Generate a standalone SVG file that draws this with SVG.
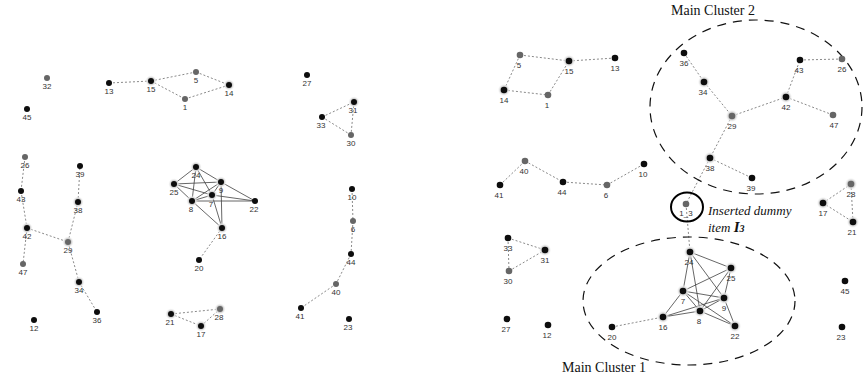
<svg xmlns="http://www.w3.org/2000/svg" width="863" height="379" viewBox="0 0 863 379">
<style>
.d{fill:#0d0d0d}
.g{fill:#666}
.h{fill:url(#halo)}
text.l{font-family:"Liberation Sans",Arial,sans-serif;font-size:8px;fill:#333;text-anchor:middle}
.e{stroke:#8a8a8a;stroke-width:1;stroke-dasharray:2 2;fill:none}
.s{stroke:#404040;stroke-width:0.8;fill:none}
.ell{fill:none;stroke:#111;stroke-width:1.2;stroke-dasharray:9 7}
.cap{font-family:"Liberation Serif","Times New Roman",serif;font-size:14px;fill:#111}
.it{font-family:"Liberation Serif","Times New Roman",serif;font-style:italic;font-size:13px;fill:#111}
</style>
<defs>
<radialGradient id="halo">
<stop offset="0" stop-color="#b8b8b8"/>
<stop offset="0.6" stop-color="#d4d4d4"/>
<stop offset="1" stop-color="#ffffff" stop-opacity="0"/>
</radialGradient>
</defs>
<rect width="863" height="379" fill="#fff"/>

<!-- connectors -->
<g id="connectors">
<!-- left -->
<line class="e" x1="109" y1="83" x2="151" y2="81"/>
<line class="e" x1="151" y1="81" x2="196" y2="72"/>
<line class="e" x1="151" y1="81" x2="185" y2="99"/>
<line class="e" x1="196" y1="72" x2="229" y2="85"/>
<line class="e" x1="185" y1="99" x2="229" y2="85"/>
<line class="e" x1="322" y1="117" x2="354" y2="102"/>
<line class="e" x1="322" y1="117" x2="351" y2="135"/>
<line class="e" x1="354" y1="102" x2="351" y2="135"/>
<line class="e" x1="25" y1="157" x2="21" y2="191"/>
<line class="e" x1="21" y1="191" x2="27" y2="228"/>
<line class="e" x1="27" y1="228" x2="23" y2="264"/>
<line class="e" x1="27" y1="228" x2="68" y2="242"/>
<line class="e" x1="68" y1="242" x2="78" y2="202"/>
<line class="e" x1="78" y1="202" x2="80" y2="166"/>
<line class="e" x1="68" y1="242" x2="79" y2="282"/>
<line class="e" x1="79" y1="282" x2="97" y2="312"/>
<line class="e" x1="352" y1="189" x2="353" y2="221"/>
<line class="e" x1="353" y1="221" x2="351" y2="254"/>
<line class="e" x1="351" y1="254" x2="336" y2="284"/>
<line class="e" x1="336" y1="284" x2="301" y2="308"/>
<line class="e" x1="171" y1="314" x2="220" y2="309"/>
<line class="e" x1="171" y1="314" x2="201" y2="326"/>
<line class="e" x1="201" y1="326" x2="220" y2="309"/>
<line class="e" x1="222" y1="228" x2="199" y2="260"/>
<line class="s" x1="196" y1="167" x2="174" y2="184"/>
<line class="s" x1="196" y1="167" x2="221" y2="182"/>
<line class="s" x1="196" y1="167" x2="192" y2="201"/>
<line class="s" x1="196" y1="167" x2="212" y2="195"/>
<line class="s" x1="174" y1="184" x2="221" y2="182"/>
<line class="s" x1="174" y1="184" x2="212" y2="195"/>
<line class="s" x1="174" y1="184" x2="192" y2="201"/>
<line class="s" x1="192" y1="201" x2="221" y2="182"/>
<line class="s" x1="192" y1="201" x2="212" y2="195"/>
<line class="s" x1="192" y1="201" x2="255" y2="201"/>
<line class="s" x1="192" y1="201" x2="222" y2="228"/>
<line class="s" x1="212" y1="195" x2="221" y2="182"/>
<line class="s" x1="212" y1="195" x2="255" y2="201"/>
<line class="s" x1="212" y1="195" x2="222" y2="228"/>
<line class="s" x1="221" y1="182" x2="255" y2="201"/>
<line class="s" x1="221" y1="182" x2="222" y2="228"/>
<!-- right -->
<line class="e" x1="520" y1="55" x2="569" y2="61"/>
<line class="e" x1="569" y1="61" x2="615" y2="58"/>
<line class="e" x1="520" y1="55" x2="504" y2="90"/>
<line class="e" x1="504" y1="90" x2="548" y2="95"/>
<line class="e" x1="548" y1="95" x2="569" y2="61"/>
<line class="e" x1="500" y1="185" x2="525" y2="161"/>
<line class="e" x1="525" y1="161" x2="563" y2="182"/>
<line class="e" x1="563" y1="182" x2="607" y2="185"/>
<line class="e" x1="607" y1="185" x2="644" y2="164"/>
<line class="e" x1="508" y1="238" x2="545" y2="250"/>
<line class="e" x1="508" y1="238" x2="509" y2="271"/>
<line class="e" x1="509" y1="271" x2="545" y2="250"/>
<line class="e" x1="684" y1="53" x2="704" y2="82"/>
<line class="e" x1="704" y1="82" x2="732" y2="116"/>
<line class="e" x1="732" y1="116" x2="786" y2="97"/>
<line class="e" x1="786" y1="97" x2="800" y2="60"/>
<line class="e" x1="800" y1="60" x2="842" y2="59"/>
<line class="e" x1="786" y1="97" x2="833" y2="115"/>
<line class="e" x1="732" y1="116" x2="710" y2="158"/>
<line class="e" x1="710" y1="158" x2="752" y2="178"/>
<line class="e" x1="710" y1="158" x2="686" y2="204"/>
<line class="e" x1="686" y1="204" x2="690" y2="252"/>
<line class="e" x1="823" y1="203" x2="851" y2="184"/>
<line class="e" x1="823" y1="203" x2="853" y2="222"/>
<line class="e" x1="851" y1="184" x2="853" y2="222"/>
<line class="e" x1="612" y1="327" x2="663" y2="317"/>
<line class="s" x1="690" y1="252" x2="731" y2="268"/>
<line class="s" x1="690" y1="252" x2="724" y2="298"/>
<line class="s" x1="690" y1="252" x2="700" y2="311"/>
<line class="s" x1="690" y1="252" x2="683" y2="291"/>
<line class="s" x1="731" y1="268" x2="724" y2="298"/>
<line class="s" x1="731" y1="268" x2="683" y2="291"/>
<line class="s" x1="731" y1="268" x2="700" y2="311"/>
<line class="s" x1="700" y1="311" x2="724" y2="298"/>
<line class="s" x1="700" y1="311" x2="683" y2="291"/>
<line class="s" x1="700" y1="311" x2="735" y2="326"/>
<line class="s" x1="700" y1="311" x2="663" y2="317"/>
<line class="s" x1="683" y1="291" x2="724" y2="298"/>
<line class="s" x1="683" y1="291" x2="735" y2="326"/>
<line class="s" x1="683" y1="291" x2="663" y2="317"/>
<line class="s" x1="724" y1="298" x2="735" y2="326"/>
<line class="s" x1="724" y1="298" x2="663" y2="317"/>
</g>

<!-- cluster outlines -->
<g id="clusters">
<ellipse class="ell" cx="756" cy="107" rx="106" ry="87"/>
<ellipse class="ell" cx="689" cy="301" rx="106" ry="64"/>
<text class="cap" x="671" y="15">Main Cluster 2</text>
<text class="cap" x="562" y="372">Main Cluster 1</text>
</g>

<!-- left nodes -->
<g id="L32"><circle class="g" cx="47" cy="78" r="3"/><text class="l" x="47" y="89">32</text></g>
<g id="L45"><circle class="d" cx="27" cy="109" r="3"/><text class="l" x="27" y="120">45</text></g>
<g id="L13"><circle class="d" cx="109" cy="83" r="3"/><text class="l" x="109" y="94">13</text></g>
<g id="L15"><circle class="h" cx="151" cy="81" r="6"/><circle class="d" cx="151" cy="81" r="3"/><text class="l" x="151" y="92">15</text></g>
<g id="L5"><circle class="g" cx="196" cy="72" r="3"/><text class="l" x="196" y="83">5</text></g>
<g id="L1"><circle class="g" cx="185" cy="99" r="3"/><text class="l" x="185" y="110">1</text></g>
<g id="L14"><circle class="h" cx="229" cy="85" r="6"/><circle class="d" cx="229" cy="85" r="3"/><text class="l" x="229" y="96">14</text></g>
<g id="L27"><circle class="d" cx="307" cy="75" r="3"/><text class="l" x="307" y="86">27</text></g>
<g id="L31"><circle class="h" cx="354" cy="102" r="6"/><circle class="d" cx="354" cy="102" r="3"/><text class="l" x="353" y="113">31</text></g>
<g id="L33"><circle class="d" cx="322" cy="117" r="3"/><text class="l" x="321" y="128">33</text></g>
<g id="L30"><circle class="g" cx="351" cy="135" r="3"/><text class="l" x="351" y="146">30</text></g>
<g id="L26"><circle class="g" cx="25" cy="157" r="3"/><text class="l" x="25" y="168">26</text></g>
<g id="L39"><circle class="d" cx="80" cy="166" r="3"/><text class="l" x="80" y="177">39</text></g>
<g id="L43"><circle class="d" cx="21" cy="191" r="3"/><text class="l" x="21" y="202">43</text></g>
<g id="L38"><circle class="h" cx="78" cy="202" r="6"/><circle class="d" cx="78" cy="202" r="3"/><text class="l" x="78" y="213">38</text></g>
<g id="L42"><circle class="h" cx="27" cy="228" r="6"/><circle class="d" cx="27" cy="228" r="3"/><text class="l" x="27" y="239">42</text></g>
<g id="L29"><circle class="h" cx="68" cy="242" r="6"/><circle class="g" cx="68" cy="242" r="3"/><text class="l" x="68" y="253">29</text></g>
<g id="L47"><circle class="g" cx="23" cy="264" r="3"/><text class="l" x="23" y="275">47</text></g>
<g id="L34"><circle class="h" cx="79" cy="282" r="6"/><circle class="d" cx="79" cy="282" r="3"/><text class="l" x="79" y="293">34</text></g>
<g id="L36"><circle class="d" cx="97" cy="312" r="3"/><text class="l" x="97" y="323">36</text></g>
<g id="L12"><circle class="d" cx="34" cy="320" r="3"/><text class="l" x="34" y="331">12</text></g>
<g id="L24"><circle class="h" cx="196" cy="167" r="6"/><circle class="d" cx="196" cy="167" r="3"/><text class="l" x="196" y="178">24</text></g>
<g id="L25"><circle class="h" cx="174" cy="184" r="6"/><circle class="d" cx="174" cy="184" r="3"/><text class="l" x="174" y="195">25</text></g>
<g id="L9"><circle class="h" cx="221" cy="182" r="6"/><circle class="d" cx="221" cy="182" r="3"/><text class="l" x="221" y="193">9</text></g>
<g id="L7"><circle class="h" cx="212" cy="195" r="6"/><circle class="d" cx="212" cy="195" r="3"/><text class="l" x="211" y="207">7</text></g>
<g id="L8"><circle class="h" cx="192" cy="201" r="6"/><circle class="d" cx="192" cy="201" r="3"/><text class="l" x="191" y="212">8</text></g>
<g id="L22"><circle class="d" cx="255" cy="201" r="3"/><text class="l" x="254" y="212">22</text></g>
<g id="L16"><circle class="h" cx="222" cy="228" r="6"/><circle class="d" cx="222" cy="228" r="3"/><text class="l" x="222" y="239">16</text></g>
<g id="L20"><circle class="d" cx="199" cy="260" r="3"/><text class="l" x="199" y="271">20</text></g>
<g id="L10"><circle class="d" cx="352" cy="189" r="3"/><text class="l" x="352" y="200">10</text></g>
<g id="L6"><circle class="g" cx="353" cy="221" r="3"/><text class="l" x="353" y="232">6</text></g>
<g id="L44"><circle class="d" cx="351" cy="254" r="3"/><text class="l" x="351" y="265">44</text></g>
<g id="L40"><circle class="g" cx="336" cy="284" r="3"/><text class="l" x="336" y="295">40</text></g>
<g id="L41"><circle class="d" cx="301" cy="308" r="3"/><text class="l" x="300" y="319">41</text></g>
<g id="L23"><circle class="d" cx="349" cy="319" r="3"/><text class="l" x="348" y="330">23</text></g>
<g id="L21"><circle class="h" cx="171" cy="314" r="6"/><circle class="d" cx="171" cy="314" r="3"/><text class="l" x="170" y="325">21</text></g>
<g id="L28"><circle class="h" cx="220" cy="309" r="6"/><circle class="g" cx="220" cy="309" r="3"/><text class="l" x="219" y="320">28</text></g>
<g id="L17"><circle class="h" cx="201" cy="326" r="6"/><circle class="d" cx="201" cy="326" r="3"/><text class="l" x="201" y="337">17</text></g>

<!-- right nodes -->
<g id="R5"><circle class="g" cx="520" cy="55" r="3.3"/><text class="l" x="519" y="68">5</text></g>
<g id="R15"><circle class="h" cx="569" cy="61" r="6.5"/><circle class="d" cx="569" cy="61" r="3.3"/><text class="l" x="569" y="74">15</text></g>
<g id="R13"><circle class="d" cx="615" cy="58" r="3.3"/><text class="l" x="615" y="71">13</text></g>
<g id="R14"><circle class="h" cx="504" cy="90" r="6.5"/><circle class="d" cx="504" cy="90" r="3.3"/><text class="l" x="504" y="103">14</text></g>
<g id="R1"><circle class="g" cx="548" cy="95" r="3.3"/><text class="l" x="547" y="108">1</text></g>
<g id="R36"><circle class="d" cx="684" cy="53" r="3.3"/><text class="l" x="684" y="66">36</text></g>
<g id="R34"><circle class="h" cx="704" cy="82" r="6.5"/><circle class="d" cx="704" cy="82" r="3.3"/><text class="l" x="703" y="95">34</text></g>
<g id="R29"><circle class="h" cx="732" cy="116" r="6.5"/><circle class="g" cx="732" cy="116" r="3.3"/><text class="l" x="732" y="129">29</text></g>
<g id="R42"><circle class="h" cx="786" cy="97" r="6.5"/><circle class="d" cx="786" cy="97" r="3.3"/><text class="l" x="786" y="110">42</text></g>
<g id="R43"><circle class="d" cx="800" cy="60" r="3.3"/><text class="l" x="799" y="73">43</text></g>
<g id="R26"><circle class="g" cx="842" cy="59" r="3.3"/><text class="l" x="842" y="72">26</text></g>
<g id="R47"><circle class="g" cx="833" cy="115" r="3.3"/><text class="l" x="834" y="128">47</text></g>
<g id="R38"><circle class="h" cx="710" cy="158" r="6.5"/><circle class="d" cx="710" cy="158" r="3.3"/><text class="l" x="710" y="171">38</text></g>
<g id="R39"><circle class="d" cx="752" cy="178" r="3.3"/><text class="l" x="751" y="191">39</text></g>
<g id="R10"><circle class="d" cx="644" cy="164" r="3.3"/><text class="l" x="643" y="177">10</text></g>
<g id="R40"><circle class="g" cx="525" cy="161" r="3.3"/><text class="l" x="524" y="174">40</text></g>
<g id="R41"><circle class="d" cx="500" cy="185" r="3.3"/><text class="l" x="499" y="198">41</text></g>
<g id="R44"><circle class="d" cx="563" cy="182" r="3.3"/><text class="l" x="562" y="195">44</text></g>
<g id="R6"><circle class="g" cx="607" cy="185" r="3.3"/><text class="l" x="606" y="198">6</text></g>
<g id="R33"><circle class="d" cx="508" cy="238" r="3.3"/><text class="l" x="508" y="251">33</text></g>
<g id="R31"><circle class="h" cx="545" cy="250" r="6.5"/><circle class="d" cx="545" cy="250" r="3.3"/><text class="l" x="545" y="263">31</text></g>
<g id="R30"><circle class="g" cx="509" cy="271" r="3.3"/><text class="l" x="508" y="284">30</text></g>
<g id="R27"><circle class="d" cx="507" cy="319" r="3.3"/><text class="l" x="506" y="332">27</text></g>
<g id="R12"><circle class="d" cx="548" cy="325" r="3.3"/><text class="l" x="547" y="338">12</text></g>
<g id="R20"><circle class="d" cx="612" cy="327" r="3.3"/><text class="l" x="612" y="340">20</text></g>
<g id="R16"><circle class="h" cx="663" cy="317" r="6.5"/><circle class="d" cx="663" cy="317" r="3.3"/><text class="l" x="663" y="330">16</text></g>
<g id="R24"><circle class="h" cx="690" cy="252" r="6.5"/><circle class="d" cx="690" cy="252" r="3.3"/><text class="l" x="689" y="265">24</text></g>
<g id="R25"><circle class="h" cx="731" cy="268" r="6.5"/><circle class="d" cx="731" cy="268" r="3.3"/><text class="l" x="731" y="281">25</text></g>
<g id="R7"><circle class="h" cx="683" cy="291" r="6.5"/><circle class="d" cx="683" cy="291" r="3.3"/><text class="l" x="683" y="304">7</text></g>
<g id="R9"><circle class="h" cx="724" cy="298" r="6.5"/><circle class="d" cx="724" cy="298" r="3.3"/><text class="l" x="724" y="311">9</text></g>
<g id="R8"><circle class="h" cx="700" cy="311" r="6.5"/><circle class="d" cx="700" cy="311" r="3.3"/><text class="l" x="699" y="324">8</text></g>
<g id="R22"><circle class="h" cx="735" cy="326" r="6.5"/><circle class="d" cx="735" cy="326" r="3.3"/><text class="l" x="735" y="339">22</text></g>
<g id="R17"><circle class="h" cx="823" cy="203" r="6.5"/><circle class="d" cx="823" cy="203" r="3.3"/><text class="l" x="823" y="216">17</text></g>
<g id="R28"><circle class="h" cx="851" cy="184" r="6.5"/><circle class="g" cx="851" cy="184" r="3.3"/><text class="l" x="851" y="197">28</text></g>
<g id="R21"><circle class="h" cx="853" cy="222" r="6.5"/><circle class="d" cx="853" cy="222" r="3.3"/><text class="l" x="852" y="235">21</text></g>
<g id="R45"><circle class="d" cx="845" cy="281" r="3.3"/><text class="l" x="845" y="294">45</text></g>
<g id="R23"><circle class="d" cx="842" cy="327" r="3.3"/><text class="l" x="841" y="340">23</text></g>

<!-- dummy item -->
<g id="dummy">
<circle class="g" cx="686" cy="204" r="3.3"/>
<text class="l" x="686" y="216">1_3</text>
<ellipse cx="687" cy="207" rx="16" ry="14.5" fill="none" stroke="#000" stroke-width="2"/>
<text class="it" x="708" y="215">Inserted dummy</text>
<text class="it" x="708" y="232">item <tspan font-weight="bold" font-size="15">I</tspan><tspan font-weight="bold" font-size="10">3</tspan></text>
</g>
</svg>
